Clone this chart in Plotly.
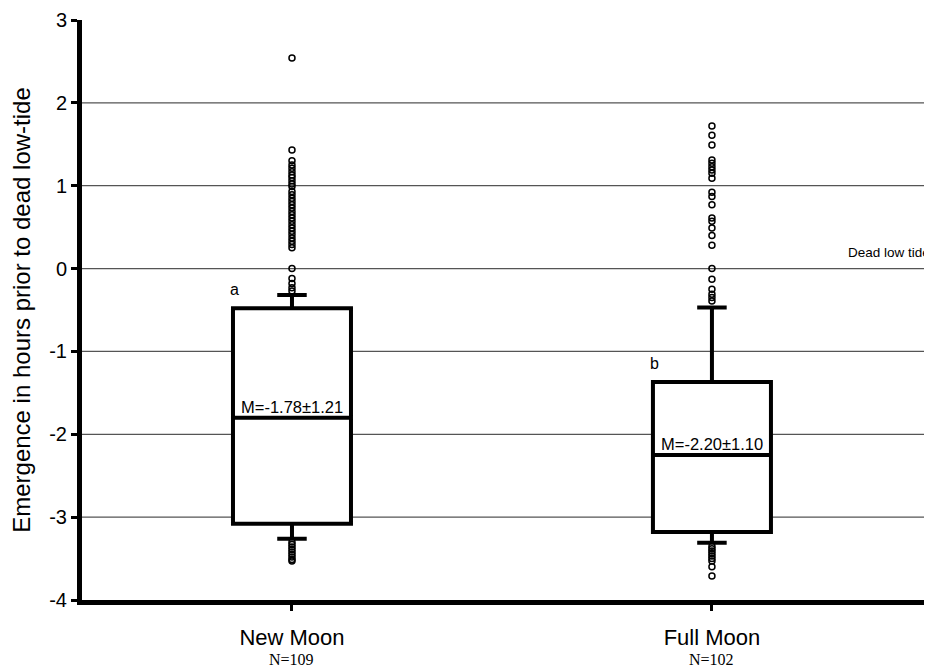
import plotly.graph_objects as go

categories = ["New Moon", "Full Moon"]
n_labels = ["N=109", "N=102"]
positions = [0, 1]

q1 = [-3.08, -3.18]
median = [-1.80, -2.25]
q3 = [-0.48, -1.37]
lower_whisker = [-3.26, -3.31]
upper_whisker = [-0.32, -0.47]

mean_labels = ["M=-1.78±1.21", "M=-2.20±1.10"]
group_letters = ["a", "b"]

new_moon_outliers = [2.54, 1.43, 1.30, 1.25, 1.21, 1.17, 1.13, 1.10, 1.06, 1.02, 0.99,
                     0.93, 0.89, 0.85, 0.81, 0.77, 0.73, 0.69, 0.65, 0.61, 0.57, 0.53,
                     0.49, 0.45, 0.41, 0.37, 0.33, 0.29, 0.25, 0.0, -0.12, -0.18, -0.23,
                     -0.27, -3.30, -3.33, -3.36, -3.39, -3.42, -3.45, -3.48, -3.51, -3.53]
full_moon_outliers = [1.72, 1.61, 1.49, 1.31, 1.27, 1.23, 1.19, 1.15, 1.09, 0.92, 0.87,
                      0.77, 0.61, 0.57, 0.49, 0.40, 0.28, 0.0, -0.13, -0.25, -0.31, -0.35,
                      -0.39, -3.35, -3.38, -3.41, -3.44, -3.47, -3.50, -3.53, -3.60, -3.71]

y_ticks = [-4, -3, -2, -1, 0, 1, 2, 3]
y_tick_text = ["-4", "-3", "-2", "-1", "0", "1", "2", "3"]
grid_values = [-3, -2, -1, 0, 1, 2]

fig = go.Figure()

for yv in grid_values:
    fig.add_shape(type="line", xref="paper", x0=0, x1=1, yref="y", y0=yv, y1=yv,
                  line=dict(color="#555555", width=1.2), layer="below")

fig.add_trace(go.Box(
    x=positions, q1=q1, median=median, q3=q3,
    lowerfence=lower_whisker, upperfence=upper_whisker,
    width=0.281, whiskerwidth=0.25, boxpoints=False,
    fillcolor="white", line=dict(color="black", width=4),
    showlegend=False, hoverinfo="skip",
))

for pos, vals in zip(positions, [new_moon_outliers, full_moon_outliers]):
    fig.add_trace(go.Scatter(
        x=[pos] * len(vals), y=vals, mode="markers",
        marker=dict(symbol="circle-open", size=6, color="black", line=dict(width=1.5, color="black")),
        showlegend=False, hoverinfo="skip",
    ))

sans = "Liberation Sans, Arial, Helvetica"
annotations = []
for pos, m, lab in zip(positions, median, mean_labels):
    annotations.append(dict(x=pos, y=m, xref="x", yref="y", text=lab, showarrow=False,
                            yanchor="bottom", yshift=0,
                            font=dict(family=sans, size=16.5, color="black")))
annotations.append(dict(x=positions[0] - 0.136, y=-0.25, xref="x", yref="y", text=group_letters[0],
                        showarrow=False, font=dict(family=sans, size=16, color="black")))
annotations.append(dict(x=positions[1] - 0.136, y=-1.14, xref="x", yref="y", text=group_letters[1],
                        showarrow=False, font=dict(family=sans, size=16, color="black")))
annotations.append(dict(x=1.32, y=0.19, xref="x", yref="y", text="Dead low tide", showarrow=False,
                        xanchor="left", font=dict(family=sans, size=13.5, color="black")))
for pos, nl in zip(positions, n_labels):
    annotations.append(dict(x=pos, y=0, xref="x", yref="paper", text=nl, showarrow=False,
                            yanchor="top", yshift=-49,
                            font=dict(family="Liberation Serif, Times New Roman", size=16, color="black")))

# page body has an 8px margin: size the figure so the plot area lands at the reference position
fig.update_layout(
    width=924, height=659,
    margin=dict(l=74, r=0, t=12, b=67),
    plot_bgcolor="white", paper_bgcolor="white",
    annotations=annotations,
    xaxis=dict(
        range=[-0.5, 1.524], tickvals=positions, ticktext=categories,
        showline=True, linecolor="black", linewidth=5, showgrid=False, zeroline=False,
        ticks="outside", ticklen=6, tickwidth=3, tickcolor="black",
        ticklabelstandoff=8, automargin=False,
        tickfont=dict(family=sans, size=22, color="black"),
    ),
    yaxis=dict(
        range=[-4, 3], tickvals=y_ticks, ticktext=y_tick_text,
        showline=True, linecolor="black", linewidth=5, showgrid=False, zeroline=False,
        ticks="outside", ticklen=6, tickwidth=3, tickcolor="black", automargin=False,
        tickfont=dict(family=sans, size=20, color="black"),
        title=dict(text="Emergence in hours prior to dead low-tide", standoff=17,
                   font=dict(family=sans, size=24, color="black")),
    ),
)

fig.write_html("out.html")
